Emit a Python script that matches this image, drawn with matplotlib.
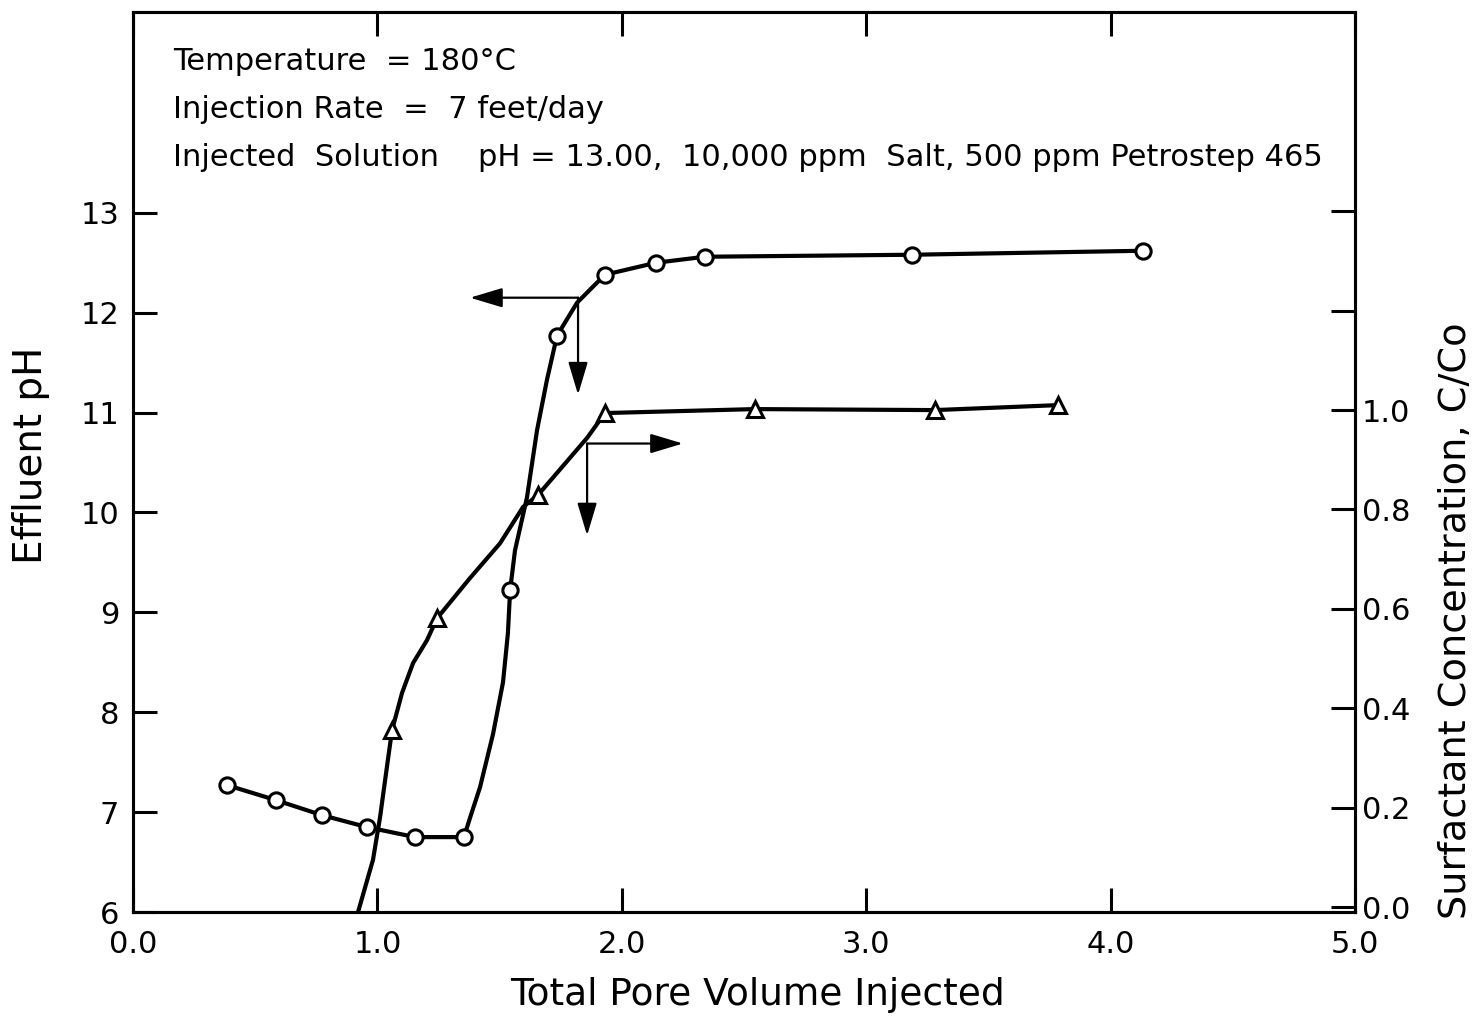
import matplotlib
matplotlib.use("Agg")
import matplotlib.pyplot as plt

plt.rcParams['font.family'] = ['DejaVu Sans']
plt.rcParams['xtick.direction'] = 'in'
plt.rcParams['ytick.direction'] = 'in'

# Effluent pH (circles)
ph_pv = [0.385, 0.585, 0.773, 0.957, 1.154, 1.354, 1.543, 1.735, 1.931, 2.140, 2.340, 3.187, 4.133]
ph_val = [7.27, 7.12, 6.97, 6.85, 6.75, 6.75, 9.22, 11.77, 12.38, 12.50, 12.56, 12.58, 12.62]

# hand-drawn pH curve path through the measured points
ph_curve_pv = [0.385, 0.585, 0.773, 0.957, 1.154, 1.354, 1.380, 1.420, 1.473, 1.514, 1.534, 1.543,
               1.563, 1.612, 1.653, 1.694, 1.735, 1.817, 1.882, 1.931, 2.140, 2.340, 3.187, 4.133]
ph_curve_val = [7.27, 7.12, 6.97, 6.85, 6.75, 6.75, 6.95, 7.25, 7.78, 8.30, 8.79, 9.22,
                9.62, 10.15, 10.82, 11.33, 11.77, 12.10, 12.26, 12.38, 12.50, 12.56, 12.58, 12.62]

# Surfactant concentration C/Co (triangles)
cc_pv = [1.060, 1.244, 1.657, 1.931, 2.545, 3.282, 3.785]
cc_val = [0.356, 0.581, 0.829, 0.994, 1.002, 1.000, 1.010]

# hand-drawn concentration curve path
cc_curve_pv = [0.921, 0.982, 1.011, 1.039, 1.060, 1.101, 1.146, 1.203, 1.244, 1.379, 1.502,
               1.596, 1.657, 1.858, 1.931, 2.545, 3.282, 3.785]
cc_curve_val = [-0.010, 0.095, 0.181, 0.282, 0.356, 0.431, 0.491, 0.537, 0.581, 0.662, 0.732,
                0.805, 0.829, 0.944, 0.994, 1.002, 1.000, 1.010]

x_ticks = [0.0, 1.0, 2.0, 3.0, 4.0, 5.0]
x_ticklabels = ["0.0", "1.0", "2.0", "3.0", "4.0", "5.0"]
ph_ticks = [6, 7, 8, 9, 10, 11, 12, 13]
cc_ticks = [0.0, 0.2, 0.4, 0.6, 0.8, 1.0, 1.2, 1.4]
cc_ticklabels = ["0.0", "0.2", "0.4", "0.6", "0.8", "1.0", "", ""]

notes = [
    "Temperature  = 180°C",
    "Injection Rate  =  7 feet/day",
    "Injected  Solution    pH = 13.00,  10,000 ppm  Salt, 500 ppm Petrostep 465",
]

fig = plt.figure(figsize=(14.79, 10.18), dpi=100)
ax = fig.add_axes([0.0899, 0.1041, 0.8263, 0.8841])
ax2 = ax.twinx()

lw_axis = 2.2
for a in (ax, ax2):
    for s in a.spines.values():
        s.set_linewidth(lw_axis)

ax.set_xlim(0, 5)
ax.set_ylim(6, 15.01)
ax2.set_ylim(-0.010, 1.801)

ax.set_xticks(x_ticks)
ax.set_xticklabels(x_ticklabels, fontsize=22)
ax.set_yticks(ph_ticks)
ax.set_yticklabels([str(t) for t in ph_ticks], fontsize=22)
ax.tick_params(axis='both', direction='in', length=17, width=2.2, top=True, right=False)
ax.tick_params(axis='x', pad=13)
ax.tick_params(axis='y', pad=10)

ax2.set_yticks(cc_ticks)
ax2.set_yticklabels(cc_ticklabels, fontsize=22)
ax2.tick_params(axis='y', direction='in', length=17, width=2.2, pad=5)

ax.set_xlabel("Total Pore Volume Injected", fontsize=27)
ax.xaxis.set_label_coords(0.511, -0.072)
ax.set_ylabel("Effluent pH", fontsize=28)
ax.yaxis.set_label_coords(-0.068, 0.508)
ax2.set_ylabel("Surfactant Concentration, C/Co", fontsize=27.5)
ax2.yaxis.set_label_coords(1.068, 0.324)

# curves
ax.plot(ph_curve_pv, ph_curve_val, color='black', lw=3.0, zorder=3, solid_capstyle='round')
ax.plot(ph_pv, ph_val, linestyle='none', marker='o', markersize=11, markerfacecolor='white',
        markeredgecolor='black', markeredgewidth=2.2, zorder=4)

ax2.plot(cc_curve_pv, cc_curve_val, color='black', lw=3.0, zorder=3, solid_capstyle='round')
ax2.plot(cc_pv, cc_val, linestyle='none', marker='^', markersize=11, markerfacecolor='white',
         markeredgecolor='black', markeredgewidth=2.2, zorder=4)

# direction arrows
arrow_kw = dict(arrowstyle='-|>,head_length=2.0,head_width=0.6', color='black', lw=1.6,
                shrinkA=0, shrinkB=0)
ax.annotate("", xy=(1.379, 12.15), xytext=(1.821, 12.15), arrowprops=arrow_kw)
ax.annotate("", xy=(1.821, 11.18), xytext=(1.821, 12.15), arrowprops=arrow_kw)
ax.annotate("", xy=(2.250, 10.69), xytext=(1.858, 10.69), arrowprops=arrow_kw)
ax.annotate("", xy=(1.858, 9.77), xytext=(1.858, 10.69), arrowprops=arrow_kw)

# run conditions
for i, t in enumerate(notes):
    ax.text(0.164, 14.51 - 0.48 * i, t, fontsize=22, ha='left', va='center')

fig.savefig("out.png", dpi=100)
